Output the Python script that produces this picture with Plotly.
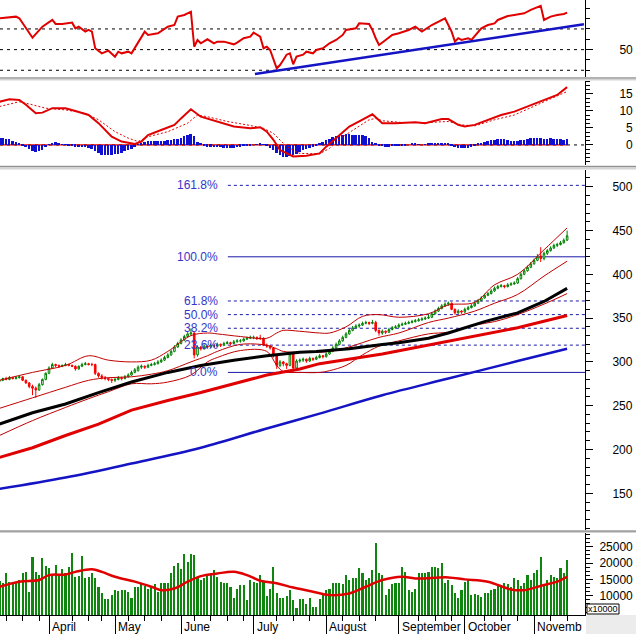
import plotly.graph_objects as go
from plotly.subplots import make_subplots
import pandas as pd

# ---------------- data ----------------
HOLIDAYS = ["2021-04-21", "2021-04-30", "2021-05-03", "2021-09-02", "2021-09-03"]
dates = [d for d in pd.bdate_range("2021-03-11", "2021-11-15") if d.strftime("%Y-%m-%d") not in HOLIDAYS]
bars = list(range(len(dates)))
month_labels = ["April", "May", "June", "July", "August", "September", "October", "Novemb"]

opens = [278,279,281,280,282,281,282,283,279,276,
         272,270,268,274,280,287,293,297,296,295,
         296,297,296,295,292,295,297,298,297,297,
         287,284,282,281,280,279,280,282,281,283,
         285,288,290,294,295,294,296,297,298,300,
         302,305,308,312,317,321,325,329,332,333,
         308,317,315,318,317,319,318,320,319,321,
         322,321,323,324,324,326,327,328,328,327,
         327,319,318,316,307,296,300,298,296,309,
         293,301,302,303,301,304,303,305,307,306,
         309,312,316,320,324,328,332,336,339,341,
         342,344,345,344,345,336,333,335,334,337,
         339,340,342,343,344,345,346,347,348,349,
         350,351,355,358,361,364,366,367,360,356,
         358,357,360,362,364,367,370,373,376,378,
         381,384,386,387,386,388,389,390,395,400,
         404,408,412,416,421,418,424,427,430,433,
         434,436,439]
highs = [282,282,283,284,283,284,285,284,280,277,
         274,272,276,281,288,295,299,298,297,297,
         299,298,297,296,296,299,300,299,299,298,
         288,286,284,282,281,282,284,283,285,287,
         290,293,296,297,296,298,299,300,302,304,
         307,310,314,319,323,327,331,334,338,334,
         319,318,320,319,321,320,322,321,323,324,
         323,325,326,326,328,329,330,330,329,331,
         328,321,319,317,308,302,301,299,311,310,
         303,304,305,304,306,305,307,309,308,311,
         314,318,322,326,330,334,338,341,343,344,
         346,347,346,348,347,337,337,336,339,341,
         342,344,345,346,347,348,349,350,351,352,
         354,357,360,363,366,368,369,368,361,360,
         359,362,364,366,369,372,375,378,380,383,
         386,388,389,388,390,391,392,397,402,406,
         410,414,418,423,431,426,429,432,435,436,
         438,441,450]
lows = [276,278,279,279,280,280,281,278,275,270,
        262,259,267,273,279,286,292,294,293,294,
        295,295,294,290,291,294,296,296,295,285,
        282,280,279,278,276,277,279,279,280,282,
        284,287,289,292,292,293,295,296,297,299,
        301,304,307,311,316,320,324,328,330,304,
        306,313,314,315,316,316,317,317,318,320,
        319,320,322,322,323,325,326,326,325,325,
        318,316,314,305,292,294,295,292,295,288,
        291,299,300,299,300,301,302,304,304,305,
        308,311,315,319,323,327,331,335,338,339,
        341,343,342,343,334,330,331,332,333,336,
        338,339,341,342,343,344,345,346,347,348,
        349,350,354,357,360,363,364,359,354,355,
        355,356,359,361,363,366,369,372,375,377,
        380,383,385,384,385,387,388,389,394,399,
        403,407,411,415,414,416,422,426,429,431,
        433,435,438]
closes = [279,281,280,282,281,282,283,279,276,272,
          270,268,274,280,287,293,297,296,295,296,
          297,296,295,292,295,297,298,297,297,287,
          284,282,281,280,279,280,282,281,283,285,
          288,291,294,295,294,296,297,298,300,302,
          305,308,312,317,321,325,329,332,333,308,
          317,315,318,317,319,318,320,319,321,322,
          321,323,324,324,326,327,328,328,327,327,
          319,318,316,307,296,300,298,296,309,293,
          301,302,303,301,304,303,305,307,306,309,
          312,316,320,324,328,332,336,339,341,342,
          344,345,344,345,336,333,335,334,337,339,
          340,342,343,344,345,346,347,348,349,350,
          351,355,358,361,364,366,367,360,356,358,
          357,360,362,364,367,370,373,376,378,381,
          384,386,387,386,388,389,390,395,400,404,
          408,412,416,420,418,424,427,430,433,434,
          436,439,444]
volumes = [14600,14000,17000,14300,14300,14300,14800,16800,17300,11200,
           21900,17300,16300,21400,19100,18400,16300,19400,16300,18100,
           16800,18900,23200,15800,16000,22100,15300,15800,17000,15300,
           12800,10700,8900,8900,10200,11900,11400,11700,11700,11200,
           9200,12600,12800,13800,13000,12200,12600,13600,11200,13800,
           14000,13800,17000,19100,20100,18100,22800,20400,22800,22400,
           15800,14800,15300,16300,16800,17900,15800,14300,14000,14000,
           12600,9200,12200,13300,13300,8700,14800,14300,13800,16300,
           14300,9900,12200,18700,10700,9200,9200,9900,11900,8700,
           6100,8900,8900,7400,9200,6400,6600,8900,10700,11900,
           12200,13800,13800,13800,13600,16300,14800,15300,15300,18400,
           16800,14800,15300,17900,26200,16800,16300,10200,12200,13600,
           13800,13800,18700,17300,11900,11200,12200,16800,16800,16800,
           17300,18700,18700,18400,20100,14000,14800,13300,10700,9200,
           11700,14300,14800,10200,10500,10200,9700,10900,10700,11700,
           12200,13000,13300,14000,13600,12800,15300,14800,13000,14000,
           16300,14800,16800,17900,21700,13300,14800,16300,15800,15300,
           18400,16800,20900]
macd_hist = [2.0,1.9,1.8,1.6,1.3,1.0,0.4,-0.2,-0.7,-1.3,
             -1.9,-2.1,-1.9,-1.4,-0.7,0.2,0.7,0.8,0.6,0.2,
             0.1,-0.1,-0.3,-0.5,-0.6,-0.7,-0.6,-0.8,-1.2,-1.8,
             -2.5,-2.9,-3.0,-3.1,-3.0,-2.8,-2.6,-2.3,-1.9,-1.5,
             -1.1,-0.5,0.1,0.5,0.9,1.1,1.2,1.2,1.3,1.3,
             1.3,1.4,1.4,1.6,1.8,2.1,2.5,3.0,3.2,2.5,
             1.0,0.4,-0.3,-0.5,-0.5,-0.6,-0.7,-0.6,-0.8,-0.8,
             -0.9,-0.8,-0.6,-0.5,-0.4,-0.3,-0.2,0.0,0.2,0.3,
             0.1,-0.4,-1.0,-1.6,-2.3,-3.0,-3.4,-3.6,-3.2,-3.0,
             -2.6,-2.1,-1.6,-1.1,-0.8,-0.5,-0.3,0.6,1.0,1.5,
             1.8,2.2,2.5,2.8,3.0,3.1,3.1,3.0,3.0,2.9,
             2.8,2.6,2.0,1.0,0.3,-0.2,-0.4,-0.5,-0.5,-0.4,
             -0.4,-0.3,-0.3,-0.2,0.0,0.3,0.3,0.1,0.0,0.1,
             0.3,0.5,0.7,0.7,0.7,0.6,0.3,-0.3,-0.6,-0.8,
             -0.9,-0.8,-0.8,-0.5,-0.1,0.4,0.7,0.9,1.2,1.4,
             1.5,1.6,1.6,1.6,1.5,1.3,1.2,1.2,1.4,1.5,
             1.7,1.9,2.0,2.0,1.9,1.7,1.7,1.9,1.8,1.7,
             1.6,1.5,1.6]

rsi_bars = [0,5,6,10,13,16,17,19,22,23,24,26,27,28,29,31,33,35,36,37,39,40,44,45,48,50,51,53,54,56,58,59,60,61,63,65,66,68,71,72,74,76,77,79,80,81,82,84,85,86,87,88,89,90,92,93,95,96,98,100,102,104,105,108,109,112,113,114,115,117,119,121,124,126,128,131,134,135,136,137,138,139,140,142,143,146,148,150,151,154,156,159,161,163,164,165,167,169,171,172]
rsi_vals = [80.3,81.9,80.3,61.5,72.2,78.7,74.8,74.8,76.1,70.6,72.2,67.4,69.0,67.4,51.3,46.4,49.0,43.2,48.0,46.4,48.0,46.4,67.4,64.2,65.8,69.7,72.2,73.8,81.9,83.5,86.7,52.8,59.3,56.1,60.0,56.1,57.7,57.7,55.1,56.7,61.0,62.5,66.4,62.5,51.3,52.8,49.6,31.9,35.1,40.0,45.1,46.4,35.8,43.2,45.1,48.0,46.4,49.6,51.3,56.1,59.3,64.2,69.0,70.6,75.4,74.8,69.0,61.0,54.5,59.3,64.2,65.8,69.0,72.2,67.4,73.8,78.7,80.3,73.8,67.4,57.7,61.0,59.3,61.0,59.3,70.6,73.8,75.4,78.7,82.5,83.5,85.1,88.4,91.0,92.3,78.7,81.9,83.5,84.5,85.8,86.1]
rsi_trend_bars = [77.4, 177.1]
rsi_trend_vals = [26.4, 74.5]
rsi_levels = [30, 50, 70]

macd_bars = [0,3,6,8,11,13,16,20,23,27,30,34,37,41,43,45,49,53,55,58,61,66,71,76,79,81,83,85,89,93,97,99,102,106,109,113,116,120,126,129,134,136,139,141,144,148,152,156,160,165,169,172]
macd_vals = [12.7,13.4,13.2,11.8,9.3,9.5,10.8,10.8,10.0,8.8,6.4,2.4,1.0,0.3,1.0,2.9,4.4,5.9,7.8,10.5,8.3,6.9,5.4,4.9,5.2,3.9,1.5,-1.5,-3.4,-3.2,-2.5,-0.5,2.0,5.4,6.9,9.0,6.4,6.4,6.7,6.4,7.6,7.6,5.9,5.4,5.9,7.4,8.8,9.8,11.3,13.2,14.7,17.0]
signal_bars = [0,6,10,14,20,26,30,35,39,42,45,51,57,60,63,69,75,80,83,87,91,97,100,104,108,112,114,116,122,130,136,140,144,150,156,162,166,172]
signal_vals = [11.3,12.7,11.8,10.8,10.3,9.3,7.4,3.9,2.0,1.0,2.4,3.9,6.4,8.8,8.3,6.9,5.9,4.9,3.4,-0.5,-2.5,-2.6,-1.0,2.4,4.9,7.4,7.8,7.1,6.6,6.6,6.9,5.9,5.6,7.4,8.8,11.3,13.2,15.7]

ma50_bars = [0,10,20,30,40,51,61,71,81,91,96,106,116,121,130,136,147,157,165,172]
ma50_vals = [229,242,252,265,277,288,296,302,307,311,312,315,320,322,327,333,346,356,369,384]
ma100_bars = [0,10,20,30,40,51,61,71,81,91,97,116,136,157,172]
ma100_vals = [191,202,216,229,245,256,265,275,285,292,298,309,324,339,353]
ma200_bars = [0,20,40,61,81,97,116,136,157,172]
ma200_vals = [155,168,184,202,224,241,262,281,301,315]

bb_bars = [0,10,20,27,33,40,46,51,58,63,66,73,81,84,86,91,97,100,105,110,115,121,130,136,144,150,157,165,172]
bb_upper = [279,288,296,307,302,300,302,312,330,333,332,329,327,333,336,335,333,333,340,352,354,351,355,365,368,388,400,428,453]
bb_middle = [247,259,271,279,282,283,286,290,300,307,312,320,319,315,312,311,311,312,316,322,328,333,345,350,358,367,377,398,415]
bb_lower = [216,233,248,258,266,275,275,277,285,300,305,313,312,296,289,288,288,290,296,308,318,324,332,334,342,346,354,366,378]

volma_bars = [0,6,12,15,20,23,28,31,35,41,46,49,53,57,61,66,71,75,79,84,89,95,100,106,111,116,122,126,136,141,148,155,159,165,169,172]
volma_vals = [12750,14300,14800,16300,16500,17300,18100,17300,15800,14300,12750,11700,12200,14300,16000,16800,17300,16300,14600,13800,12500,11200,10200,10700,12750,14800,15800,15300,15600,15000,14300,11900,11700,13300,14300,15800]

fib_low, fib_high = 288, 420
fib_ratios = [0.0, 0.236, 0.382, 0.5, 0.618, 1.0, 1.618]
fib_texts = ["0.0%", "23.6%", "38.2%", "50.0%", "61.8%", "100.0%", "161.8%"]
fib_start_bar = 69.2
fib_label_bar = 65.9

price_ticks = [150, 200, 250, 300, 350, 400, 450, 500]
macd_ticks = [0, 5, 10, 15]
vol_ticks = [10000, 15000, 20000, 25000]

# ---------------- layout helpers ----------------
H_PLOT = 615.0
def py(y):
    return (H_PLOT - y) / H_PLOT

X_MIN, X_MAX = 0.15, 177.42
FONT = "Liberation Sans, Arial, sans-serif"
RED = "#e00000"
BLUE = "#1414c4"
GREEN = "#0f870f"

fig = make_subplots(rows=4, cols=1, shared_xaxes=False, vertical_spacing=0.0)

# RSI
fig.add_trace(go.Scatter(x=rsi_bars, y=rsi_vals, mode="lines", line=dict(color=RED, width=2)), row=1, col=1)
fig.add_trace(go.Scatter(x=rsi_trend_bars, y=rsi_trend_vals, mode="lines", line=dict(color=BLUE, width=2.5)), row=1, col=1)

# MACD
fig.add_trace(go.Bar(x=bars, y=macd_hist, marker=dict(color="#1010d0", line=dict(width=0)), width=0.6), row=2, col=1)
fig.add_trace(go.Scatter(x=signal_bars, y=signal_vals, mode="lines", line=dict(color=RED, width=1, dash="2px,2px")), row=2, col=1)
fig.add_trace(go.Scatter(x=macd_bars, y=macd_vals, mode="lines", line=dict(color=RED, width=2)), row=2, col=1)

# Price
fig.add_trace(go.Scatter(x=bb_bars, y=bb_upper, mode="lines", line=dict(color="#c00000", width=1, shape="spline")), row=3, col=1)
fig.add_trace(go.Scatter(x=bb_bars, y=bb_middle, mode="lines", line=dict(color="#c00000", width=1, shape="spline")), row=3, col=1)
fig.add_trace(go.Scatter(x=bb_bars, y=bb_lower, mode="lines", line=dict(color="#c00000", width=1, shape="spline")), row=3, col=1)
fig.add_trace(go.Scatter(x=ma200_bars, y=ma200_vals, mode="lines", line=dict(color=BLUE, width=2.5, shape="spline")), row=3, col=1)
fig.add_trace(go.Scatter(x=ma100_bars, y=ma100_vals, mode="lines", line=dict(color=RED, width=3)), row=3, col=1)
fig.add_trace(go.Scatter(x=ma50_bars, y=ma50_vals, mode="lines", line=dict(color="#000000", width=3)), row=3, col=1)
fig.add_trace(go.Candlestick(x=bars, open=opens, high=highs, low=lows, close=closes,
                             increasing=dict(line=dict(color="#008000", width=1), fillcolor="#ffffff"),
                             decreasing=dict(line=dict(color="#ff0000", width=1), fillcolor="#ff0000"),
                             whiskerwidth=0), row=3, col=1)

# Volume
fig.add_trace(go.Bar(x=bars, y=volumes, marker=dict(color=GREEN, line=dict(width=0)), width=0.62), row=4, col=1)
fig.add_trace(go.Scatter(x=volma_bars, y=volma_vals, mode="lines", line=dict(color=RED, width=2.5, shape="spline")), row=4, col=1)

# ---------------- axes ----------------
axis_font = dict(family=FONT, size=12, color="#000000")
for r in range(1, 5):
    fig.update_xaxes(range=[X_MIN, X_MAX], showgrid=False, zeroline=False, showticklabels=False,
                     ticks="", showline=False, row=r, col=1)
fig.update_layout(xaxis3_rangeslider_visible=False)

month_starts = [i for i in bars if i > 0 and dates[i].month != dates[i - 1].month]
week_starts = [i for i in bars if i > 0 and dates[i].isocalendar()[1] != dates[i - 1].isocalendar()[1]
               and min(abs(i - m) for m in month_starts) > 2]
fig.update_xaxes(showline=True, linecolor="#000000", linewidth=1, ticks="outside", ticklen=18,
                 tickcolor="#000000", tickvals=month_starts, ticktext=[""] * len(month_starts),
                 minor=dict(tickvals=week_starts, ticks="outside", ticklen=5, tickcolor="#000000"),
                 row=4, col=1)

common_y = dict(side="right", showgrid=False, zeroline=False, showline=True, linecolor="#000000",
                linewidth=1, ticks="outside", tickcolor="#000000", ticklen=7, tickfont=axis_font)

fig.update_yaxes(**common_y, domain=[py(77), 1.0], range=[23.5, 98.0], tickvals=[50], ticktext=["50"],
                 ticklabelstandoff=24,
                 minor=dict(ticks="outside", ticklen=4, dtick=10, tick0=0, tickcolor="#000000"), row=1, col=1)
fig.update_yaxes(**common_y, domain=[py(165), py(81)], range=[-5.9, 18.8], tickvals=macd_ticks,
                 ticktext=["\u2007" + str(v) if v < 10 else str(v) for v in macd_ticks],
                 ticklabelstandoff=24,
                 minor=dict(ticks="outside", ticklen=4, dtick=1.25, tick0=0, tickcolor="#000000"), row=2, col=1)
fig.update_yaxes(**common_y, domain=[py(530), py(170)], range=[108.1, 519.1], tickvals=price_ticks,
                 ticktext=[str(v) for v in price_ticks], ticklabelstandoff=17,
                 minor=dict(ticks="outside", ticklen=4, dtick=10, tick0=0, tickcolor="#000000"), row=3, col=1)
fig.update_yaxes(**common_y, domain=[0.0, py(533)], range=[4090, 29200], tickvals=vol_ticks,
                 ticktext=[str(v) for v in vol_ticks], ticklabelstandoff=4,
                 minor=dict(ticks="outside", ticklen=4, dtick=1250, tick0=0, tickcolor="#000000"), row=4, col=1)

# ---------------- shapes & annotations ----------------
shapes = []
annotations = []

for lv in rsi_levels:
    shapes.append(dict(type="line", xref="x domain", yref="y", x0=0, x1=1, y0=lv, y1=lv,
                       line=dict(color="#000000", width=1, dash="3px,4px"), layer="below"))
shapes.append(dict(type="line", xref="x2 domain", yref="y2", x0=0, x1=1, y0=0, y1=0,
                   line=dict(color="#000000", width=1, dash="3px,4px"), layer="below"))
shapes.append(dict(type="line", xref="x2", yref="y2", x0=bars[0], x1=bars[-1], y0=0, y1=0,
                   line=dict(color=RED, width=1.2), layer="below"))

for r, t in zip(fib_ratios, fib_texts):
    lvl = fib_low + r * (fib_high - fib_low)
    solid = r in (0.0, 1.0)
    shapes.append(dict(type="line", xref="x3", yref="y3", x0=fib_start_bar, x1=X_MAX, y0=lvl, y1=lvl,
                       line=dict(color="#1a1aa8", width=1, dash="solid" if solid else "3px,3px"), layer="below"))
    annotations.append(dict(x=fib_label_bar, y=lvl, xref="x3", yref="y3", text=t, showarrow=False,
                            xanchor="right", yanchor="middle", xshift=3,
                            font=dict(family=FONT, size=12, color="#3535cc")))

# panel separators
for y0, y1 in [(77, 80.5), (165.5, 169.5), (530.2, 533)]:
    shapes.append(dict(type="rect", xref="paper", yref="paper", x0=0, x1=636 / 585.0,
                       y0=py(y1), y1=py(y0), fillcolor="#d4d4d4", line=dict(width=0), layer="above"))
    shapes.append(dict(type="line", xref="paper", yref="paper", x0=0, x1=636 / 585.0,
                       y0=py(y0 + 1), y1=py(y0 + 1), line=dict(color="#909090", width=1.2), layer="above"))

# bottom-right grey corner and unit box
shapes.append(dict(type="rect", xref="paper", yref="paper", x0=586 / 585.0, x1=636 / 585.0,
                   y0=py(634), y1=py(615), fillcolor="#ececec", line=dict(width=0), layer="below"))
shapes.append(dict(type="rect", xref="paper", yref="paper", x0=587 / 585.0, x1=619 / 585.0,
                   y0=py(614), y1=py(604), fillcolor="#ffffff", line=dict(color="#000000", width=1)))
annotations.append(dict(x=603 / 585.0, y=py(609), xref="paper", yref="paper", text="x10000", showarrow=False,
                        xanchor="center", yanchor="middle", font=dict(family=FONT, size=9, color="#000000")))

for m, name in zip(month_starts, month_labels):
    annotations.append(dict(x=m, y=py(627), xref="x4", yref="paper", text=name, showarrow=False,
                            xanchor="left", yanchor="middle", xshift=1,
                            font=dict(family=FONT, size=12, color="#000000")))

fig.update_layout(width=636, height=634, margin=dict(l=0, r=51, t=0, b=19),
                  paper_bgcolor="#ffffff", plot_bgcolor="#ffffff", showlegend=False,
                  bargap=0, shapes=shapes, annotations=annotations,
                  font=dict(family=FONT, size=12, color="#000000"))

fig.write_html("out.html")
